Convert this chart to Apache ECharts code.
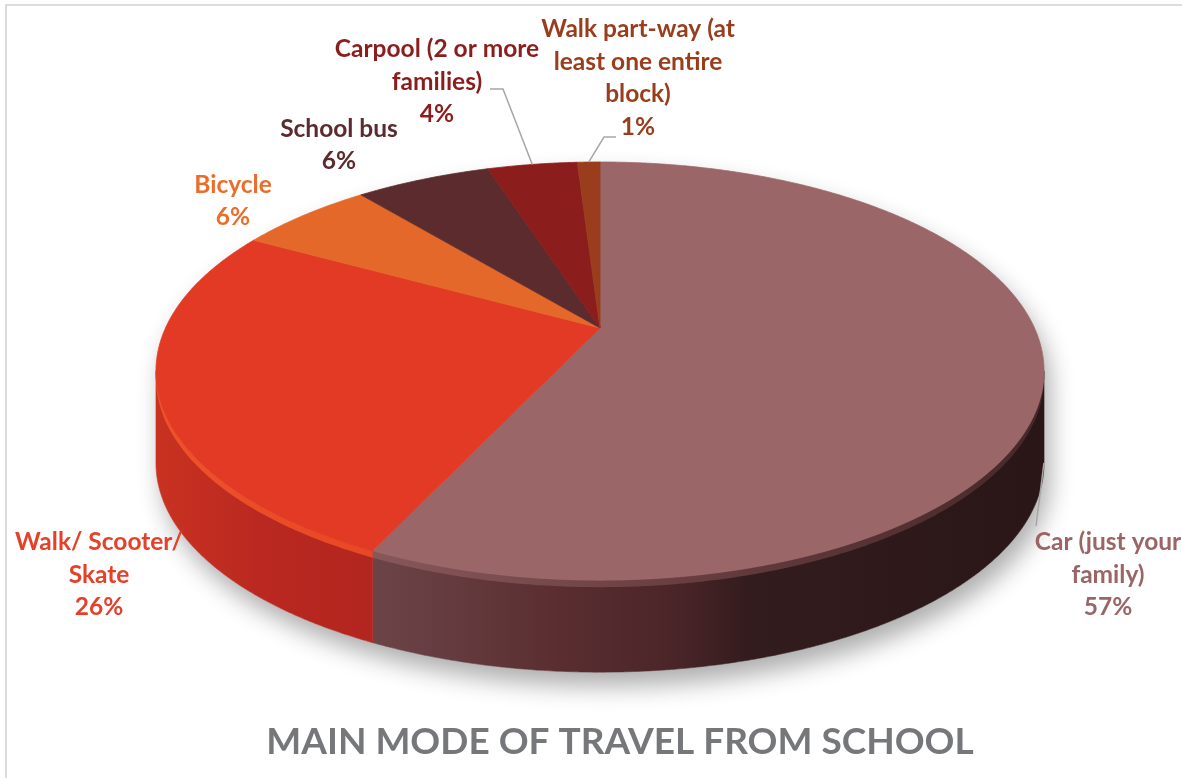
<!DOCTYPE html>
<html>
<head>
<meta charset="utf-8">
<script src="https://cdn.jsdelivr.net/npm/echarts@6/dist/echarts.min.js"></script>
<style>
  html, body { margin: 0; padding: 0; background: #ffffff; }
  #chart { width: 1182px; height: 778px; }
</style>
</head>
<body>
<div id="chart"></div>
<script>
// ---- data ----
const categories = [
  'Car (just your\nfamily)',
  'Walk/ Scooter/\nSkate',
  'Bicycle',
  'School bus',
  'Carpool (2 or more\nfamilies)',
  'Walk part-way (at\nleast one entire\nblock)'
];
const values = [57, 26, 6, 6, 4, 1];
const chartTitle = 'MAIN MODE OF TRAVEL FROM SCHOOL';

// ---- styles ----
const faceColors  = ['#9a6667', '#e23a24', '#e4682a', '#5b2b2e', '#8c1d1d', '#9a3d1d'];
const labelColors = ['#9b6566', '#e5402a', '#ea6d2c', '#5b2b2e', '#8c1d1d', '#9a3d1d'];
const wallStops = [
  [[0, '#6c4448'], [0.28, '#5a2e31'], [0.45, '#4a2528'], [0.56, '#331c1e'], [1, '#2a1617']],
  [[0, '#c93220'], [0.5, '#b92821'], [1, '#b3251f']],
  [[0, '#c8561f'], [1, '#c8561f']],
  [[0, '#44201f'], [1, '#44201f']],
  [[0, '#6e1515'], [1, '#6e1515']],
  [[0, '#7a2e15'], [1, '#7a2e15']]
];
const rimColors = [
  [[0, '#8a5a5c'], [0.5, '#6a3f42'], [1, '#4a2a2c']],
  [[0, '#f2562c'], [1, '#ef4a26']],
  [[0, '#f07a3a'], [1, '#f07a3a']],
  [[0, '#6a3a3c'], [1, '#6a3a3c']],
  [[0, '#a02a2a'], [1, '#a02a2a']],
  [[0, '#b04a2a'], [1, '#b04a2a']]
];

// ---- layout: label block centres and leader-line elbows ----
const labelPos = [[1108, 575], [99, 575], [233, 201], [339, 145], [437, 82], [638, 78]];
const leaderPts = [[[1036, 526]], null, null, null, [[503, 89], [490, 89]], [[604, 137], [616, 137]]];
const leaderDepth = [0.97, 0, 0, 0, 0, 0];

// perspective disc: centre, radii, perspective strength, extrusion depth
const geo = { cx: 600, cy: 328, rx: 434.5, ry: 200.2, k: 0.206, depth: 92, rim: 7 };
const TAU = Math.PI * 2;

function proj(t, d) {
  const u = Math.sin(t), v = -Math.cos(t);
  const p = 1 / (1 - geo.k * v);
  return [geo.cx + geo.rx * u * p, geo.cy + geo.ry * v * p + d];
}
function arc(s, e, d) {
  const n = Math.max(2, Math.ceil((e - s) / (0.4 * Math.PI / 180)));
  const pts = [];
  for (let j = 0; j <= n; j++) pts.push(proj(s + (e - s) * j / n, d));
  return pts;
}
// side wall is visible between the two silhouette angles
const tA = Math.acos(-geo.k), tB = TAU - tA;

function xGradient(pts, stops) {
  let x0 = Infinity, x1 = -Infinity;
  pts.forEach(p => { x0 = Math.min(x0, p[0]); x1 = Math.max(x1, p[0]); });
  return {
    type: 'linear', x: x0, y: 0, x2: x1 + 0.01, y2: 0, global: true,
    colorStops: stops.map(s => ({ offset: s[0], color: s[1] }))
  };
}

function renderItem(params, api) {
  const i = params.dataIndex;
  const total = values.reduce((a, b) => a + b, 0);
  const before = values.slice(0, i).reduce((a, b) => a + b, 0);
  const s = before / total * TAU;
  const e = (before + api.value(0)) / total * TAU;
  const children = [];

  if (i === 0) {
    // soft drop shadow under the whole disc
    const sil = arc(tB - TAU, tA, 0).concat(arc(tA, tB, geo.depth));
    children.push({
      type: 'polygon', z2: 0,
      shape: { points: sil },
      style: { fill: '#ffffff', shadowBlur: 24, shadowOffsetX: 6, shadowOffsetY: 14, shadowColor: 'rgba(0,0,0,0.32)' }
    });
  }

  // side wall
  const ws = Math.max(s, tA), we = Math.min(e, tB);
  if (we > ws) {
    const top = arc(ws, we, 0);
    const bot = arc(ws, we, geo.depth).reverse();
    const wall = top.concat(bot);
    children.push({
      type: 'polygon', z2: 1,
      shape: { points: wall },
      style: { fill: xGradient(wall, wallStops[i]), stroke: xGradient(wall, wallStops[i]), lineWidth: 0.6 }
    });
    // bevel highlight band along the top rim
    const band = arc(ws, we, 0).concat(arc(ws, we, geo.rim).reverse());
    children.push({
      type: 'polygon', z2: 2,
      shape: { points: band },
      style: { fill: xGradient(band, rimColors[i]), opacity: 0.9 }
    });
  }

  // top face
  const face = [[geo.cx, geo.cy]].concat(arc(s, e, 0));
  children.push({
    type: 'polygon', z2: 3,
    shape: { points: face },
    style: { fill: faceColors[i], stroke: faceColors[i], lineWidth: 0.8 }
  });

  // leader line
  if (leaderPts[i]) {
    const mid = (s + e) / 2;
    const anchor = proj(mid, leaderDepth[i] * geo.depth);
    children.push({
      type: 'polyline', z2: 4,
      shape: { points: [anchor].concat(leaderPts[i]) },
      style: { fill: null, stroke: '#a6a6a6', lineWidth: 1.5 }
    });
  }

  // data label
  children.push({
    type: 'text', z2: 5,
    x: labelPos[i][0], y: labelPos[i][1],
    style: {
      text: categories[i] + '\n' + api.value(0) + '%',
      fill: labelColors[i],
      fontFamily: 'Lato', fontWeight: 'bold', fontSize: 24.5,
      lineHeight: 32.5, align: 'center', verticalAlign: 'middle'
    }
  });

  return { type: 'group', children };
}

const chart = echarts.init(document.getElementById('chart'), null, { renderer: 'canvas' });
chart.setOption({
  animation: false,
  backgroundColor: '#ffffff',
  title: {
    text: chartTitle,
    left: 615, top: 719, textAlign: 'center',
    textStyle: { color: '#76777a', fontFamily: 'Lato', fontWeight: 'bold', fontSize: 37 }
  },
  graphic: [{
    type: 'rect', z: -1, silent: true,
    shape: { x: 6, y: 5, width: 1300, height: 900 },
    style: { fill: null, stroke: '#dcdcdc', lineWidth: 2 }
  }],
  series: [{
    type: 'custom',
    coordinateSystem: 'none',
    data: values.map(v => [v]),
    renderItem
  }]
});
</script>
</body>
</html>
